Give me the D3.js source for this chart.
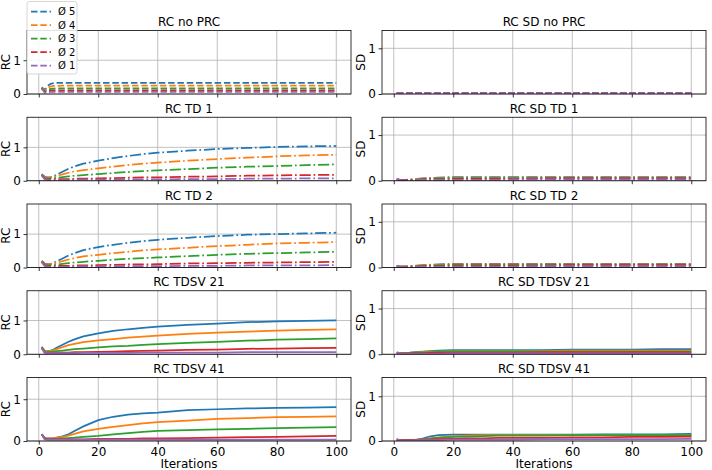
<!DOCTYPE html>
<html><head><meta charset="utf-8">
<script src="https://cdn.jsdelivr.net/npm/d3@7"></script>
<style>body{margin:0;background:#fff}svg{display:block}text{font-family:"DejaVu Sans",sans-serif;fill:#000}</style>
</head><body><svg id="c" width="712" height="470"></svg>
<script>
// ---------- data ----------
const iterations = [1,2,3,4,5,6,8,10,12,15,20,25,30,35,40,50,60,70,80,90,100];
const seriesNames = ["Ø 5","Ø 4","Ø 3","Ø 2","Ø 1"];
const colors = ["#1f77b4","#ff7f0e","#2ca02c","#d62728","#9467bd"];
const xTicks = [0,20,40,60,80,100];
const yTicks = [0,1];
const leftTitles = ["RC no PRC","RC TD 1","RC TD 2","RC TDSV 21","RC TDSV 41"];
const rightTitles = ["RC SD no PRC","RC SD TD 1","RC SD TD 2","RC SD TDSV 21","RC SD TDSV 41"];

const rcNoPrc = [
 [0.20,0.12,0.24,0.30,0.32,0.33,0.33,0.33,0.33,0.33,0.33,0.33,0.33,0.33,0.33,0.33,0.33,0.33,0.33,0.33,0.33],
 [0.19,0.10,0.18,0.22,0.24,0.24,0.25,0.25,0.25,0.25,0.25,0.25,0.25,0.25,0.25,0.25,0.25,0.25,0.25,0.25,0.25],
 [0.18,0.08,0.13,0.15,0.16,0.17,0.17,0.17,0.17,0.17,0.17,0.17,0.17,0.17,0.17,0.17,0.17,0.17,0.17,0.17,0.17],
 [0.17,0.06,0.09,0.10,0.11,0.11,0.11,0.11,0.11,0.11,0.11,0.11,0.11,0.11,0.11,0.11,0.11,0.11,0.11,0.11,0.11],
 [0.16,0.04,0.05,0.06,0.06,0.06,0.06,0.06,0.06,0.06,0.06,0.06,0.06,0.06,0.06,0.06,0.06,0.06,0.06,0.06,0.06]];
const rcTd1 = [
 [0.20,0.12,0.10,0.11,0.14,0.18,0.27,0.36,0.43,0.51,0.60,0.68,0.74,0.80,0.84,0.90,0.95,0.98,1.01,1.03,1.04],
 [0.19,0.10,0.09,0.10,0.12,0.14,0.19,0.24,0.28,0.32,0.37,0.42,0.47,0.51,0.54,0.60,0.65,0.69,0.73,0.76,0.78],
 [0.18,0.08,0.07,0.07,0.08,0.09,0.11,0.13,0.15,0.17,0.20,0.23,0.26,0.29,0.31,0.35,0.39,0.42,0.44,0.47,0.49],
 [0.17,0.06,0.04,0.04,0.04,0.05,0.05,0.05,0.06,0.06,0.07,0.08,0.09,0.10,0.10,0.12,0.13,0.15,0.16,0.17,0.18],
 [0.16,0.04,0.02,0.02,0.02,0.02,0.02,0.02,0.03,0.03,0.03,0.03,0.04,0.04,0.04,0.05,0.05,0.06,0.06,0.07,0.07]];
const rcTd2 = [
 [0.20,0.12,0.10,0.11,0.14,0.18,0.27,0.36,0.43,0.52,0.61,0.68,0.74,0.79,0.83,0.89,0.94,0.98,1.00,1.02,1.04],
 [0.19,0.10,0.09,0.10,0.12,0.14,0.19,0.24,0.28,0.33,0.38,0.43,0.47,0.51,0.54,0.59,0.64,0.68,0.72,0.74,0.76],
 [0.18,0.08,0.07,0.07,0.08,0.09,0.11,0.13,0.15,0.17,0.20,0.23,0.26,0.28,0.30,0.34,0.38,0.41,0.43,0.45,0.47],
 [0.17,0.06,0.04,0.04,0.04,0.05,0.05,0.05,0.06,0.06,0.07,0.08,0.09,0.09,0.10,0.12,0.13,0.14,0.15,0.16,0.17],
 [0.16,0.04,0.02,0.02,0.02,0.02,0.02,0.02,0.03,0.03,0.03,0.03,0.04,0.04,0.04,0.05,0.05,0.06,0.06,0.06,0.07]];
const rcTdsv21 = [
 [0.22,0.10,0.09,0.11,0.14,0.19,0.28,0.37,0.44,0.53,0.62,0.69,0.74,0.78,0.82,0.87,0.91,0.95,0.97,0.99,1.00],
 [0.21,0.09,0.08,0.10,0.12,0.15,0.21,0.27,0.31,0.36,0.41,0.45,0.49,0.52,0.55,0.60,0.64,0.67,0.70,0.72,0.74],
 [0.20,0.07,0.06,0.07,0.08,0.09,0.11,0.13,0.15,0.17,0.20,0.23,0.25,0.28,0.30,0.34,0.37,0.40,0.43,0.45,0.47],
 [0.19,0.05,0.04,0.04,0.04,0.04,0.05,0.05,0.06,0.06,0.07,0.08,0.09,0.10,0.11,0.13,0.14,0.16,0.17,0.18,0.19],
 [0.18,0.04,0.03,0.03,0.03,0.03,0.03,0.03,0.03,0.04,0.04,0.04,0.04,0.05,0.05,0.05,0.05,0.06,0.06,0.06,0.06]];
const rcTdsv41 = [
 [0.16,0.08,0.06,0.06,0.07,0.08,0.11,0.16,0.24,0.35,0.50,0.58,0.63,0.66,0.68,0.74,0.76,0.78,0.79,0.80,0.81],
 [0.16,0.07,0.06,0.06,0.07,0.08,0.10,0.13,0.17,0.23,0.29,0.34,0.38,0.42,0.45,0.49,0.53,0.55,0.57,0.58,0.59],
 [0.16,0.06,0.05,0.05,0.05,0.05,0.06,0.07,0.08,0.10,0.12,0.16,0.19,0.22,0.24,0.26,0.28,0.29,0.31,0.32,0.33],
 [0.16,0.05,0.04,0.04,0.04,0.04,0.04,0.04,0.04,0.04,0.05,0.05,0.05,0.06,0.06,0.07,0.08,0.09,0.10,0.11,0.12],
 [0.16,0.04,0.03,0.03,0.03,0.03,0.03,0.03,0.03,0.03,0.03,0.03,0.03,0.03,0.03,0.03,0.03,0.03,0.03,0.03,0.03]];

const sdNoPrc = [
 [0.02,0.02,0.02,0.02,0.02,0.02,0.02,0.02,0.02,0.02,0.02,0.02,0.02,0.02,0.02,0.02,0.02,0.02,0.02,0.02,0.02],
 [0.02,0.02,0.02,0.02,0.02,0.02,0.02,0.02,0.02,0.02,0.02,0.02,0.02,0.02,0.02,0.02,0.02,0.02,0.02,0.02,0.02],
 [0.02,0.02,0.02,0.02,0.02,0.02,0.02,0.02,0.02,0.02,0.02,0.02,0.02,0.02,0.02,0.02,0.02,0.02,0.02,0.02,0.02],
 [0.02,0.02,0.02,0.02,0.02,0.02,0.02,0.02,0.02,0.02,0.02,0.02,0.02,0.02,0.02,0.02,0.02,0.02,0.02,0.02,0.02],
 [0.02,0.02,0.02,0.02,0.02,0.02,0.02,0.02,0.02,0.02,0.02,0.02,0.02,0.02,0.02,0.02,0.02,0.02,0.02,0.02,0.02]];
const sdTd1 = [
 [0.03,0.02,0.02,0.02,0.03,0.03,0.04,0.05,0.06,0.07,0.08,0.08,0.08,0.08,0.08,0.08,0.08,0.08,0.08,0.08,0.08],
 [0.03,0.02,0.02,0.02,0.02,0.03,0.04,0.05,0.05,0.06,0.07,0.07,0.07,0.07,0.07,0.07,0.07,0.07,0.07,0.07,0.07],
 [0.03,0.02,0.02,0.02,0.02,0.02,0.03,0.04,0.04,0.05,0.06,0.06,0.06,0.06,0.06,0.06,0.06,0.06,0.06,0.06,0.06],
 [0.03,0.02,0.02,0.02,0.02,0.02,0.02,0.03,0.03,0.03,0.04,0.04,0.04,0.04,0.04,0.05,0.05,0.05,0.05,0.05,0.05],
 [0.04,0.02,0.01,0.01,0.01,0.01,0.02,0.02,0.02,0.02,0.02,0.02,0.02,0.02,0.03,0.03,0.03,0.03,0.03,0.03,0.03]];
const sdTd2 = [
 [0.03,0.02,0.02,0.02,0.03,0.03,0.04,0.05,0.06,0.07,0.08,0.08,0.08,0.08,0.08,0.08,0.08,0.08,0.08,0.08,0.08],
 [0.03,0.02,0.02,0.02,0.02,0.03,0.04,0.05,0.05,0.06,0.07,0.07,0.07,0.07,0.07,0.07,0.07,0.07,0.07,0.07,0.07],
 [0.03,0.02,0.02,0.02,0.02,0.02,0.03,0.04,0.04,0.05,0.06,0.06,0.06,0.06,0.06,0.06,0.06,0.06,0.06,0.06,0.06],
 [0.03,0.02,0.02,0.02,0.02,0.02,0.02,0.03,0.03,0.03,0.04,0.04,0.04,0.04,0.04,0.04,0.05,0.05,0.05,0.05,0.05],
 [0.04,0.02,0.01,0.01,0.01,0.01,0.02,0.02,0.02,0.02,0.02,0.02,0.02,0.02,0.02,0.03,0.03,0.03,0.03,0.03,0.03]];
const sdTdsv21 = [
 [0.03,0.02,0.02,0.02,0.03,0.04,0.05,0.06,0.07,0.08,0.09,0.09,0.09,0.09,0.09,0.09,0.10,0.10,0.10,0.11,0.11],
 [0.03,0.02,0.02,0.02,0.03,0.03,0.04,0.05,0.06,0.06,0.07,0.07,0.07,0.07,0.07,0.07,0.08,0.08,0.08,0.08,0.08],
 [0.03,0.02,0.02,0.02,0.02,0.03,0.03,0.04,0.04,0.05,0.06,0.06,0.06,0.06,0.06,0.06,0.06,0.06,0.06,0.06,0.06],
 [0.03,0.02,0.02,0.02,0.02,0.02,0.02,0.02,0.03,0.03,0.03,0.03,0.03,0.03,0.03,0.04,0.04,0.04,0.04,0.04,0.04],
 [0.05,0.02,0.01,0.01,0.01,0.01,0.01,0.01,0.01,0.01,0.02,0.02,0.02,0.02,0.02,0.02,0.02,0.02,0.02,0.02,0.02]];
const sdTdsv41 = [
 [0.03,0.02,0.02,0.02,0.02,0.02,0.03,0.06,0.10,0.13,0.14,0.14,0.14,0.14,0.14,0.14,0.14,0.15,0.15,0.15,0.16],
 [0.03,0.02,0.02,0.02,0.02,0.02,0.03,0.04,0.06,0.08,0.11,0.12,0.13,0.13,0.13,0.13,0.13,0.13,0.13,0.13,0.13],
 [0.03,0.02,0.02,0.02,0.02,0.02,0.03,0.04,0.05,0.07,0.09,0.10,0.11,0.12,0.12,0.12,0.13,0.13,0.13,0.13,0.13],
 [0.03,0.02,0.02,0.02,0.02,0.02,0.02,0.03,0.03,0.04,0.05,0.06,0.06,0.07,0.07,0.07,0.08,0.08,0.09,0.09,0.10],
 [0.04,0.02,0.01,0.01,0.01,0.01,0.02,0.02,0.02,0.02,0.03,0.03,0.03,0.03,0.03,0.04,0.04,0.04,0.04,0.04,0.05]];

const leftData = [rcNoPrc, rcTd1, rcTd2, rcTdsv21, rcTdsv41];
const rightData = [sdNoPrc, sdTd1, sdTd2, sdTdsv21, sdTdsv41];
const leftYMax = [1.88, 1.9, 1.9, 1.88, 1.52];
const rightYMax = [1.39, 1.39, 1.39, 1.39, 1.42];
const rowDash = ["6.5,2.8", "11.2,2.8,1.75,2.8", "11.2,2.8,1.75,2.8", null, null];

// ---------- layout ----------
const svg = d3.select("#c");
const FS = 12;
const colX = [{x0:27, x1:351, lab:"RC", ymax:leftYMax, data:leftData, titles:leftTitles},
              {x0:382, x1:706, lab:"SD", ymax:rightYMax, data:rightData, titles:rightTitles}];
const rowTop = i => 30.5 + i*86.75;
const H = 63.5;

colX.forEach((col, ci) => {
  for (let r = 0; r < 5; r++) {
    const top = rowTop(r), bottom = top + H;
    const x = d3.scaleLinear().domain([-3.95, 104.95]).range([col.x0, col.x1]);
    const y = d3.scaleLinear().domain([0, col.ymax[r]]).range([bottom, top]);
    const g = svg.append("g");
    const clipId = `clip${ci}_${r}`;
    g.append("clipPath").attr("id", clipId).append("rect")
      .attr("x", col.x0).attr("y", top).attr("width", col.x1 - col.x0).attr("height", H);
    // grid
    g.append("g").selectAll("line").data(xTicks).join("line")
      .attr("x1", d => x(d)).attr("x2", d => x(d)).attr("y1", top).attr("y2", bottom)
      .attr("stroke", "#b0b0b0").attr("stroke-width", 0.8);
    g.append("g").selectAll("line").data(yTicks).join("line")
      .attr("x1", col.x0).attr("x2", col.x1).attr("y1", d => y(d)).attr("y2", d => y(d))
      .attr("stroke", "#b0b0b0").attr("stroke-width", 0.8);
    // lines
    const line = d3.line().x((d, i) => x(iterations[i])).y(d => y(d));
    const lg = g.append("g").attr("clip-path", `url(#${clipId})`);
    col.data[r].forEach((vals, si) => {
      lg.append("path").attr("d", line(vals)).attr("fill", "none")
        .attr("stroke", colors[si]).attr("stroke-width", 1.75)
        .attr("stroke-dasharray", rowDash[r]);
    });
    // axes
    const xa = d3.axisBottom(x).tickValues(xTicks).tickSizeInner(3.5).tickSizeOuter(0).tickPadding(2.5);
    if (r < 4) xa.tickFormat(() => "");
    const xg = g.append("g").attr("transform", `translate(0,${bottom})`).call(xa);
    const ya = d3.axisLeft(y).tickValues(yTicks).tickSizeInner(3.5).tickSizeOuter(0).tickPadding(2.5).tickFormat(d3.format("d"));
    const yg = g.append("g").attr("transform", `translate(${col.x0},0)`).call(ya);
    [xg, yg].forEach(a => {
      a.select(".domain").remove();
      a.selectAll("line").attr("stroke", "#000").attr("stroke-width", 0.8);
      a.selectAll("text").attr("font-size", FS).attr("font-family", "DejaVu Sans").attr("fill", "#000");
    });
    // frame
    g.append("rect").attr("x", col.x0).attr("y", top).attr("width", col.x1 - col.x0).attr("height", H)
      .attr("fill", "none").attr("stroke", "#000").attr("stroke-width", 0.8);
    // title
    g.append("text").attr("x", (col.x0 + col.x1) / 2).attr("y", top - 4.5)
      .attr("text-anchor", "middle").attr("font-size", FS).text(col.titles[r]);
    // y label
    g.append("text").attr("transform", `translate(${col.x0 - 17.5},${(top + bottom) / 2}) rotate(-90)`)
      .attr("text-anchor", "middle").attr("font-size", FS).text(col.lab);
    if (r === 4) {
      g.append("text").attr("x", (col.x0 + col.x1) / 2).attr("y", 468)
        .attr("text-anchor", "middle").attr("font-size", FS).text("Iterations");
    }
  }
});

// legend
const leg = svg.append("g");
leg.append("rect").attr("x", 27).attr("y", 1.5).attr("width", 50).attr("height", 72.5).attr("rx", 2.5)
  .attr("fill", "#fff").attr("fill-opacity", 0.85).attr("stroke", "#cccccc").attr("stroke-width", 0.8);
seriesNames.forEach((n, i) => {
  const yy = 11.5 + i * 13.5;
  leg.append("line").attr("x1", 31).attr("x2", 51).attr("y1", yy).attr("y2", yy)
    .attr("stroke", colors[i]).attr("stroke-width", 1.75).attr("stroke-dasharray", rowDash[0]);
  leg.append("text").attr("x", 58).attr("y", yy + 3.5).attr("font-size", 10).text(n);
});
</script></body></html>
